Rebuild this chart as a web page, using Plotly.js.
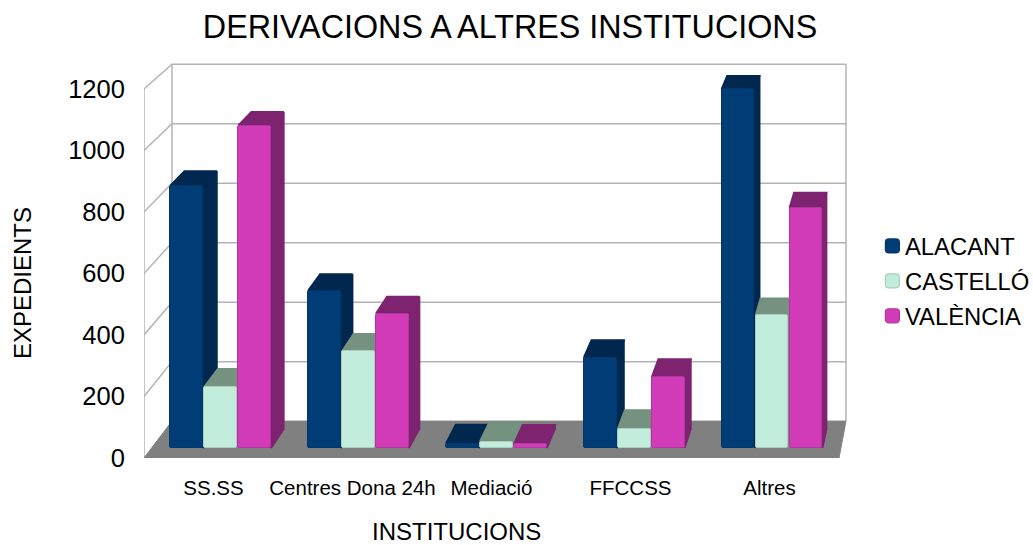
<!DOCTYPE html>
<html><head><meta charset="utf-8">
<script src="https://cdn.plot.ly/plotly-3.0.1.min.js"></script>
<style>html,body{margin:0;padding:0;background:#fff}#c{width:1033px;height:545px}</style>
</head><body><div id="c"></div>
<script>
const categories = ["SS.SS", "Centres Dona 24h", "Mediació", "FFCCSS", "Altres"];
const alacant = [860, 516, 14, 296, 1178];
const castello = [200, 317, 21, 62, 435];
const valencia = [1058, 441, 13, 232, 788];
const yTicks = [0, 200, 400, 600, 800, 1000, 1200];
const seriesNames = ["ALACANT", "CASTELLÓ", "VALÈNCIA"];
const frontColors = ["#003d77", "#c2ecdb", "#d23cb9"];
const edgeColors = ["#03376b", "#aacdbf", "#b5359f"];
const shadeColors = ["#00284f", "#75917f", "#7e2370"];

// Oblique projection of the LibreOffice-style 3D box: d = 0 front, d = 1 back
const P = {shiftX: 0.2014, shrinkX: 0.0302, liftY: 120, shrinkY: 0.033};
const project = (x, v, d) => [P.shiftX * d + x * (1 - P.shrinkX * d), v * (1 - P.shrinkY * d) + P.liftY * d];
const dF = 0.27, dB = 0.79, groupPad = 0.135, slot = 0.2466, barW = 0.238;
const nCat = categories.length, yMax = yTicks[yTicks.length - 1];
const allSeries = [alacant, castello, valencia];

function polyTrace(points, close, extra) {
  const xs = [], ys = [];
  points.forEach(poly => {
    poly.forEach(p => { const q = project(p[0], p[1], p[2]); xs.push(q[0]); ys.push(q[1]); });
    if (close) { const q = project(poly[0][0], poly[0][1], poly[0][2]); xs.push(q[0]); ys.push(q[1]); }
    xs.push(null); ys.push(null);
  });
  return Object.assign({type: "scatter", x: xs, y: ys, mode: "lines", showlegend: false, hoverinfo: "skip", cliponaxis: false}, extra);
}

const gridPolys = yTicks.filter(v => v > 0).map(v => [[0, v, 0], [0, v, 1], [nCat, v, 1]]);
gridPolys.push([[0, 0, 0], [0, yMax, 0]], [[0, 0, 1], [0, yMax, 1]], [[nCat, 0, 1], [nCat, yMax, 1]]);
const traces = [
  polyTrace(gridPolys, false, {line: {color: "#b3b3b3", width: 1.5}, zorder: 0}),
  polyTrace([[[0, 0, 0], [nCat, 0, 0], [nCat, 0, 1], [0, 0, 1]]], true, {fill: "toself", fillcolor: "#808080", line: {color: "#808080", width: 1}, zorder: 0})
];

allSeries.forEach((vals, s) => {
  const polys = [];
  vals.forEach((v, i) => {
    const l = i + groupPad + s * slot, r = l + barW;
    polys.push([[r, 0, dF], [r, v, dF], [r, v, dB], [r, 0, dB]]);
    polys.push([[l, v, dF], [r, v, dF], [r, v, dB], [l, v, dB]]);
  });
  traces.push(polyTrace(polys, true, {fill: "toself", fillcolor: shadeColors[s], line: {color: shadeColors[s], width: 2}, zorder: 1}));
});

allSeries.forEach((vals, s) => {
  const base = project(0, 0, dF)[1];
  traces.push({
    type: "bar", name: seriesNames[s], legendgroup: seriesNames[s], zorder: 2,
    x: vals.map((v, i) => project(i + groupPad + s * slot + barW / 2, 0, dF)[0]),
    y: vals.map(v => project(0, v, dF)[1] - base),
    base: vals.map(() => base),
    width: vals.map(() => barW * (1 - P.shrinkX * dF)),
    customdata: categories.map((c, i) => [c, vals[i]]),
    hovertemplate: "%{customdata[0]}: %{customdata[1]}<extra>" + seriesNames[s] + "</extra>",
    marker: {color: frontColors[s], line: {color: edgeColors[s], width: 1}}
  });
});

const font = {family: "Liberation Sans, Arial, sans-serif", color: "#000"};
const L = 144, R = 850, T = 60, B = 458, W = 1033, H = 545;
const pxX = p => (p - L) / (R - L), pxY = p => (B - p) / (B - T);
const layout = {
  width: W, height: H, paper_bgcolor: "#fff", plot_bgcolor: "rgba(0,0,0,0)", font,
  barmode: "overlay", barcornerradius: 2, bargap: 0,
  margin: {l: L, r: W - R, t: T, b: H - B, autoexpand: false, pad: 0},
  title: {text: "DERIVACIONS A ALTRES INSTITUCIONS", x: 510 / W, xanchor: "center", y: 1 - 27 / H, yanchor: "middle", font: {size: 32.3, color: "#000", family: font.family}},
  xaxis: {range: [0, (R - L) / 139], tickmode: "array", tickvals: categories.map((c, i) => i + 0.5), ticktext: categories,
    showgrid: false, zeroline: false, showline: false, ticks: "outside", ticklen: 11, tickcolor: "rgba(0,0,0,0)", tickfont: {size: 20.5, color: "#000"}},
  yaxis: {range: [0, (B - T) / 0.3075], tickmode: "array", tickvals: yTicks, ticktext: yTicks.map(String),
    showgrid: false, zeroline: false, showline: false, ticks: "outside", ticklen: 13, tickcolor: "rgba(0,0,0,0)", tickfont: {size: 25.5, color: "#000"}},
  legend: {x: pxX(865), xanchor: "left", y: pxY(224), yanchor: "top", font: {size: 23.8, color: "#000"}, traceorder: "grouped", tracegroupgap: 1, bgcolor: "rgba(0,0,0,0)", itemclick: false, itemdoubleclick: false},
  annotations: [
    {text: "INSTITUCIONS", xref: "paper", yref: "paper", x: pxX(456), y: pxY(531), xanchor: "center", yanchor: "middle", showarrow: false, borderpad: 0, font: {size: 24, color: "#000"}},
    {text: "EXPEDIENTS", xref: "paper", yref: "paper", x: pxX(22), y: pxY(283), xanchor: "center", yanchor: "middle", textangle: -90, showarrow: false, font: {size: 24, color: "#000"}}
  ],
  showlegend: true
};
Plotly.newPlot("c", traces, layout, {displayModeBar: false, staticPlot: false}).then(() => {
  document.querySelectorAll("#c .legend .traces .layers").forEach(g => g.setAttribute("transform", "translate(4,0) scale(1.17)"));
});
</script></body></html>
